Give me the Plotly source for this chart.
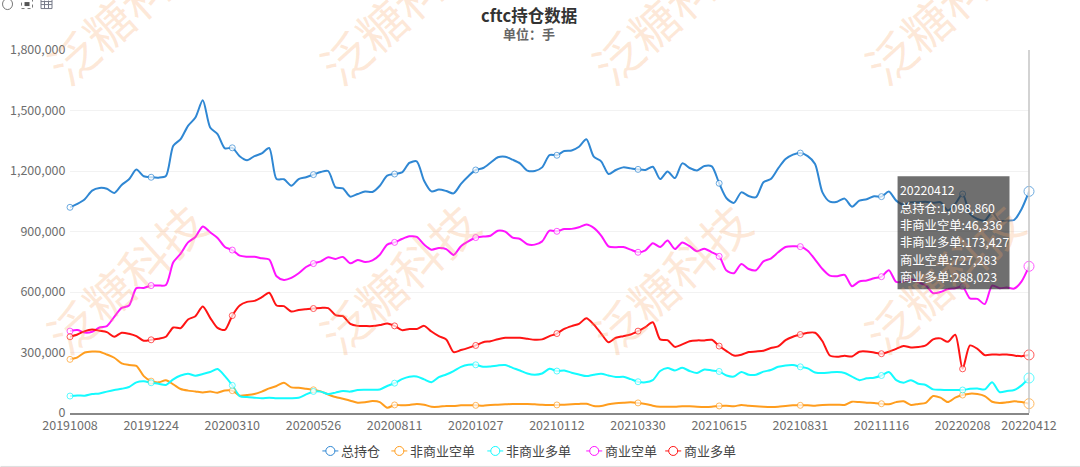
import pandas as pd
import plotly.graph_objects as go

# Weekly report dates; the week of 20211228 has no report.
all_weeks = pd.date_range("2019-10-08", "2022-04-12", freq="7D").strftime("%Y%m%d").tolist()
CATEGORIES = [d for d in all_weeks if d != "20211228"]

TICK_LABELS = ["20191008", "20191224", "20200310", "20200526", "20200811", "20201027", "20210112",
               "20210330", "20210615", "20210831", "20211116", "20220208", "20220412"]

# Open interest in thousands of lots
TOTAL = [1020,1037,1060,1103,1116,1112,1091,1131,1159,1207,1174,1169,1167,1175,1325,1358,1424,1465,1551,1416,
         1383,1312,1315,1273,1253,1274,1287,1314,1160,1159,1127,1160,1169,1182,1195,1200,1119,1114,1073,1086,
         1098,1096,1127,1177,1185,1193,1240,1248,1152,1099,1108,1101,1089,1136,1174,1205,1215,1241,1268,1271,
         1256,1238,1202,1200,1218,1279,1278,1299,1302,1320,1357,1271,1248,1185,1205,1218,1213,1208,1205,1221,
         1160,1198,1165,1238,1215,1203,1225,1223,1139,1065,1042,1094,1076,1070,1144,1160,1213,1259,1281,1289,
         1274,1235,1094,1048,1048,1063,1023,1053,1060,1075,1073,1098,1053,1033,1045,1045,1047,1042,1045,1004,
         1037,1086,987,962,954,995,951,954,957,1012,1098.860]
NONCOMM_SHORT = [266,276,300,305,304,290,274,246,238,234,183,158,152,162,142,119,111,107,102,106,
                 101,112,111,86,89,94,106,122,134,150,127,125,120,115,107,92,79,71,61,51,
                 53,59,54,26,40,38,40,45,41,31,31,35,35,38,38,38,36,40,41,43,
                 45,45,45,43,41,40,40,41,43,45,46,35,35,43,48,51,53,50,45,36,
                 31,31,31,33,33,31,30,31,35,36,33,40,36,33,31,30,31,35,38,38,
                 38,36,40,41,41,40,56,54,51,50,46,43,54,58,40,45,50,84,76,54,
                 76,89,96,94,84,56,50,53,58,54,46.336]
NONCOMM_LONG = [84,87,86,94,97,106,114,120,129,152,157,150,145,139,167,186,195,185,193,203,
                218,183,137,84,79,76,73,76,73,73,73,76,92,107,106,94,101,109,106,114,
                115,115,117,134,148,168,180,181,167,153,178,191,208,229,239,239,229,231,236,238,
                224,211,196,190,196,219,208,211,200,191,183,190,195,186,178,180,168,155,152,163,
                208,223,211,224,208,198,216,211,206,186,181,203,190,190,205,213,229,236,238,229,
                221,201,198,201,203,198,180,163,172,175,186,203,163,150,163,145,139,117,115,114,
                114,114,120,122,117,153,104,109,114,137,173.427]
COMM_SHORT = [406,411,399,403,424,431,477,521,533,619,620,632,632,635,747,790,846,873,925,896,
              868,823,808,780,775,775,767,761,678,660,670,693,724,741,752,772,764,774,742,759,
              749,757,785,835,846,863,876,873,835,810,818,813,784,827,851,870,875,879,904,899,
              870,863,837,835,851,904,901,912,913,921,935,918,880,826,822,823,810,797,807,842,
              823,855,813,846,827,802,815,797,777,706,693,739,714,708,752,766,797,823,827,825,
              805,761,714,681,678,685,629,652,657,668,676,708,650,652,665,648,632,594,600,615,
              619,627,568,566,540,632,619,622,617,653,727.283]
COMM_LONG = [378,389,406,414,408,401,378,398,393,381,358,363,368,378,424,421,464,480,528,472,
             422,412,483,533,551,556,574,596,533,530,503,511,515,518,521,520,485,480,442,432,
             431,431,436,444,432,411,417,417,432,404,381,365,302,312,323,335,351,356,366,373,
             373,373,368,363,365,381,394,417,431,442,470,439,394,351,373,381,389,406,426,450,
             365,361,328,340,356,360,360,363,332,307,285,289,302,305,309,322,330,361,378,389,
             398,398,356,285,279,284,280,304,305,300,294,304,318,332,325,327,335,365,370,353,
             388,219,335,318,287,290,289,290,285,282,288.023]

SERIES = [("总持仓", TOTAL, "#2f87d3"),
          ("非商业空单", NONCOMM_SHORT, "#ff9d1e"),
          ("非商业多单", NONCOMM_LONG, "#14fbff"),
          ("商业空单", COMM_SHORT, "#ff14ff"),
          ("商业多单", COMM_LONG, "#ff1414")]

W, H = 1080, 467
L, R, T, B = 69.5, 1029, 49.5, 413
CJK = "Noto Sans CJK SC"


def px(x):
    return (x - L) / (R - L)


def py(y):
    return (B - y) / (B - T)


fig = go.Figure()
tick_set = set(TICK_LABELS)
for name, vals, color in SERIES:
    lots = [round(v * 1000) for v in vals]
    fig.add_trace(go.Scatter(x=CATEGORIES, y=lots, mode="lines", name=name, showlegend=False, hoverinfo="skip",
                             line=dict(color=color, width=2, shape="spline", smoothing=0.75)))
for name, vals, color in SERIES:
    lots = [round(v * 1000) for v in vals]
    marked = [i for i, d in enumerate(CATEGORIES) if d in tick_set]
    sizes = [10 if CATEGORIES[i] == TICK_LABELS[-1] else 6 for i in marked]
    fig.add_trace(go.Scatter(x=[CATEGORIES[i] for i in marked], y=[lots[i] for i in marked], mode="markers",
                             showlegend=False, hoverinfo="skip", cliponaxis=False, name=name,
                             marker=dict(size=sizes, color="white", line=dict(color=color, width=1))))

annotations = []
# Repeating watermark
for cx in (125, 398, 670, 943):
    for cy in (7, 277):
        annotations.append(dict(x=px(cx), y=py(cy), xref="paper", yref="paper", text="泛糖科技",
                                showarrow=False, textangle=-42, xanchor="center", yanchor="middle",
                                font=dict(family=CJK, size=48, color="rgba(250,165,100,0.25)")))


def label(x, y, text, size, color, xanchor="left"):
    annotations.append(dict(x=px(x), y=py(y), xref="paper", yref="paper", text=text, showarrow=False,
                            xanchor=xanchor, yanchor="middle", font=dict(family=CJK, size=size, color=color)))


# Titles
label(529, 14, "<b>cftc持仓数据</b>", 16.5, "#333333", "center")
label(529, 33, "<b>单位：手</b>", 13, "#666666", "center")

shapes = [
    # Crosshair at the hovered date
    dict(type="line", xref="paper", yref="paper", x0=1, x1=1, y0=0, y1=1, line=dict(color="#c4c4c4", width=1.5)),
    # Window edge at the bottom of the page
    dict(type="line", xref="paper", yref="paper", x0=px(0), x1=px(W), y0=py(466.5), y1=py(466.5),
         line=dict(color="#dddddd", width=1)),
    # Toolbox icons
    dict(type="circle", xref="paper", yref="paper", x0=px(2), x1=px(12), y0=py(9), y1=py(-2),
         line=dict(color="#777777", width=1)),
    dict(type="rect", xref="paper", yref="paper", x0=px(21), x1=px(32), y0=py(8), y1=py(-2),
         line=dict(color="#777777", width=1, dash="dot")),
    dict(type="rect", xref="paper", yref="paper", x0=px(24), x1=px(29), y0=py(5.5), y1=py(1.5),
         fillcolor="#555555", line=dict(width=0)),
    dict(type="rect", xref="paper", yref="paper", x0=px(40.5), x1=px(51.5), y0=py(8), y1=py(-2),
         line=dict(color="#777a88", width=1)),
]
for gx in (44, 48):
    shapes.append(dict(type="line", xref="paper", yref="paper", x0=px(gx), x1=px(gx), y0=py(8), y1=py(0),
                       line=dict(color="#777a88", width=1)))
for gy in (1, 4):
    shapes.append(dict(type="line", xref="paper", yref="paper", x0=px(40.5), x1=px(51.5), y0=py(gy), y1=py(gy),
                       line=dict(color="#777a88", width=1)))

# Legend row: short line with a hollow circle, then the series name
LEGEND_X = [322, 391, 487, 586, 665]
for (name, _, color), lx in zip(SERIES, LEGEND_X):
    shapes.append(dict(type="line", xref="paper", yref="paper", x0=px(lx), x1=px(lx + 16), y0=py(451), y1=py(451),
                       line=dict(color=color, width=1)))
    shapes.append(dict(type="circle", xref="paper", yref="paper", x0=px(lx + 3.5), x1=px(lx + 12.5),
                       y0=py(455.5), y1=py(446.5), fillcolor="white", line=dict(color=color, width=1)))
    label(lx + 17, 450.5, name, 13, "#444444")

# Tooltip for the last report date
shapes.append(dict(type="rect", xref="paper", yref="paper", x0=px(897.5), x1=px(1009.5), y0=py(289), y1=py(176),
                   fillcolor="rgba(50,50,50,0.7)", line=dict(width=0)))
tip_lines = [CATEGORIES[-1]] + [f"{name}:{round(vals[-1] * 1000):,}" for name, vals, _ in SERIES]
for k, line in enumerate(tip_lines):
    label(898, 190 + 17.4 * k, line, 12.3, "white")

fig.update_layout(
    width=W, height=H, margin=dict(l=L, r=W - R, t=T, b=H - B, autoexpand=False),
    paper_bgcolor="white", plot_bgcolor="white",
    font=dict(family=CJK, size=13, color="#666666"),
    showlegend=False,
    xaxis=dict(type="category", categoryorder="array", categoryarray=CATEGORIES, range=[0, len(CATEGORIES) - 1],
               tickmode="array", tickvals=TICK_LABELS, ticktext=TICK_LABELS, ticks="", showgrid=False,
               showline=True, linecolor="#888888", linewidth=2, tickfont=dict(size=12.5, color="#6e6e6e")),
    yaxis=dict(range=[0, 1800000], tickmode="array", tickvals=[0, 300000, 600000, 900000, 1200000, 1500000, 1800000],
               tickformat=",", showgrid=True, gridcolor="#f2f2f2", gridwidth=1, zeroline=False, showline=False,
               ticks="outside", ticklen=1, tickcolor="rgba(0,0,0,0)", tickfont=dict(size=12.5, color="#6e6e6e")),
    annotations=annotations, shapes=shapes,
)
fig.write_html("out.html")
